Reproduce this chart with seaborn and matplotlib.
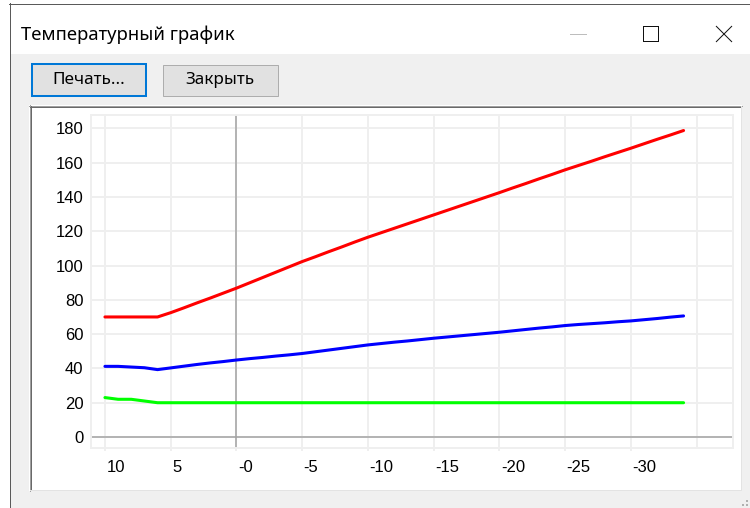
import matplotlib
matplotlib.use("Agg")
import matplotlib.pyplot as plt
import matplotlib.transforms as mtransforms
import seaborn as sns
import pandas as pd
from matplotlib.patches import Rectangle

# ---------------- data ----------------
outdoor_temp = [10, 9, 8, 7, 6, 5, 4, 3, 2, 1, 0, -1, -2, -3, -4, -5, -6, -7, -8, -9,
                -10, -11, -12, -13, -14, -15, -16, -17, -18, -19, -20, -21, -22, -23,
                -24, -25, -26, -27, -28, -29, -30, -31, -32, -33, -34]
supply_temp = [70, 70, 70, 70, 70, 72.5, 75.3, 78.2, 81.0, 83.9, 86.8, 89.9, 93.0,
               96.1, 99.2, 102.3, 105.1, 108.0, 110.8, 113.7, 116.5, 119.1, 121.7,
               124.3, 126.9, 129.5, 132.1, 134.7, 137.3, 139.9, 142.5, 145.2, 147.8,
               150.5, 153.1, 155.8, 158.3, 160.8, 163.4, 165.9, 168.4, 171.0, 173.6,
               176.1, 178.7]
return_temp = [41.2, 41.2, 40.8, 40.4, 39.3, 40.3, 41.3, 42.3, 43.2, 44.0, 44.9, 45.7,
               46.4, 47.2, 47.9, 48.7, 49.7, 50.7, 51.7, 52.7, 53.7, 54.5, 55.3, 56.0,
               56.8, 57.6, 58.3, 59.0, 59.7, 60.4, 61.1, 61.9, 62.7, 63.5, 64.2, 65.0,
               65.6, 66.1, 66.6, 67.2, 67.7, 68.4, 69.1, 69.9, 70.6]
hot_water_temp = [23, 22, 22, 21, 20, 20, 20, 20, 20, 20, 20, 20, 20, 20, 20, 20, 20,
                  20, 20, 20, 20, 20, 20, 20, 20, 20, 20, 20, 20, 20, 20, 20, 20, 20,
                  20, 20, 20, 20, 20, 20, 20, 20, 20, 20, 20]

series_names = ["supply", "return", "hot_water"]
series_colors = ["#FF0000", "#0000FF", "#00FF00"]

x_tick_values = [10, 5, 0, -5, -10, -15, -20, -25, -30]
x_tick_labels = ["10", "5", "-0", "-5", "-10", "-15", "-20", "-25", "-30"]
y_tick_values = [0, 20, 40, 60, 80, 100, 120, 140, 160, 180]
y_tick_labels = ["0", "20", "40", "60", "80", "100", "120", "140", "160", "180"]

window_title = "Температурный график"
button_labels = ["Печать...", "Закрыть"]

# ---------------- long table for seaborn ----------------
df = pd.concat([
    pd.DataFrame({"outdoor": outdoor_temp, "temp": vals, "series": name})
    for name, vals in zip(series_names, [supply_temp, return_temp, hot_water_temp])
], ignore_index=True)

sns.set_style("white")
plt.rcParams["font.family"] = ["Liberation Sans", "DejaVu Sans"]

W, H = 750, 508
fig = plt.figure(figsize=(W / 100, H / 100), dpi=100)
fig.patch.set_facecolor("white")

# background axes in pixel coordinates for the window chrome
bg = fig.add_axes([0, 0, 1, 1], zorder=-5)
bg.set_xlim(0, W)
bg.set_ylim(H, 0)
bg.axis("off")


def rect(x0, y0, x1, y1, fc, ec="none", lw=0.0):
    bg.add_patch(Rectangle((x0, y0), x1 - x0, y1 - y0, facecolor=fc, edgecolor=ec,
                           linewidth=lw))


def seg(x0, y0, x1, y1, color, px=1.0, aa=False):
    bg.plot([x0, x1], [y0, y1], color=color, linewidth=px * 0.72,
            solid_capstyle="butt", antialiased=aa)


ui_font = ["Noto Sans", "DejaVu Sans"]

# window body
rect(10, 54, W, H, "#F0F0F0")
rect(10, 4, W, 54, "#FFFFFF")
seg(9.5, 3, 9.5, H, "#5a5a5a")
seg(9, 3.5, W, 3.5, "#5a5a5a")

# title and caption buttons
bg.text(21, 35, window_title, fontsize=13.3, family=ui_font,
        color="#000000", va="center", ha="left")
seg(570, 33.5, 586, 33.5, "#BDBDBD")
bg.add_patch(Rectangle((642.5, 25.5), 15, 15, facecolor="none", edgecolor="#111111",
                       linewidth=0.72, antialiased=False))
seg(716, 26, 732, 42, "#111111", 1.0, aa=True)
seg(716, 42, 732, 26, "#111111", 1.0, aa=True)

# push buttons
rect(32, 64, 146, 96, "#E1E1E1", "#0078D7", 1.45)
rect(162.5, 64.5, 277.5, 95.5, "#E1E1E1", "#ADADAD", 0.72)
bg.text(89, 80.5, button_labels[0], fontsize=12.3, family=ui_font,
        va="center", ha="center", color="#000000")
bg.text(220, 80.5, button_labels[1], fontsize=12.3, family=ui_font,
        va="center", ha="center", color="#000000")

# sunken chart panel
rect(29, 105, 742, 491, "#FFFFFF")
seg(29, 105.5, 742, 105.5, "#A0A0A0")
seg(29.5, 105, 29.5, 491, "#A0A0A0")
seg(30, 106.5, 741, 106.5, "#696969")
seg(30.5, 106, 30.5, 490, "#696969")
seg(30, 489.5, 741, 489.5, "#E3E3E3")
seg(740.5, 106, 740.5, 490, "#E3E3E3")

# resize grip dots
for gx, gy in [(746, 500), (746, 504), (742, 504)]:
    rect(gx, gy, gx + 1.5, gy + 1.5, "#B0B0B0")

# ---------------- chart ----------------
ax = fig.add_axes([91 / W, 1 - 448 / H, (733 - 91) / W, (448 - 115) / H], zorder=1)
ax.set_facecolor("white")

sns.lineplot(data=df, x="outdoor", y="temp", hue="series",
             palette=dict(zip(series_names, series_colors)), hue_order=series_names,
             estimator=None, errorbar=None, legend=False, linewidth=2.2, ax=ax,
             zorder=3)

ax.set_xlim(11.06, -37.76)
ax.set_ylim(-6.4, 187.75)

ax.set_xticks(x_tick_values)
ax.set_xticklabels(x_tick_labels)
ax.set_yticks(y_tick_values)
ax.set_yticklabels(y_tick_labels)

grid_c = "#EFEFEF"
ax.grid(True, color=grid_c, linewidth=1.4)
ax.set_axisbelow(True)
ax.axvline(-35, color=grid_c, linewidth=1.4, zorder=0.6)
ax.axhline(0, color="#A3A3A3", linewidth=1.1, zorder=1.5)
ax.axvline(0, color="#A3A3A3", linewidth=1.1, zorder=1.5)

for sp in ax.spines.values():
    sp.set_color(grid_c)
    sp.set_linewidth(1.4)

ax.tick_params(axis="x", bottom=True, length=2.4, width=1.4, color=grid_c, pad=6,
               labelsize=12, labelcolor="#000000")
ax.tick_params(axis="y", left=False, length=0, pad=5.4, labelsize=12,
               labelcolor="#000000")

# x labels in the reference start just right of their tick
shift = mtransforms.ScaledTranslation(1.5 / 100, 0, fig.dpi_scale_trans)
for lab in ax.get_xticklabels():
    lab.set_horizontalalignment("left")
    lab.set_transform(lab.get_transform() + shift)

ax.set_xlabel("")
ax.set_ylabel("")

fig.savefig("out.png", dpi=100, facecolor=fig.get_facecolor())
